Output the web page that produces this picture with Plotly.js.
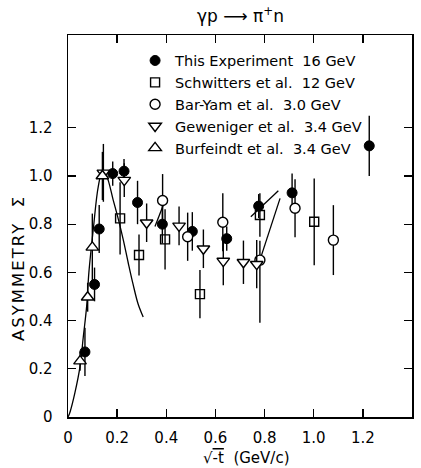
<!DOCTYPE html>
<html><head><meta charset="utf-8">
<script src="https://cdn.plot.ly/plotly-3.0.1.min.js"></script>
<style>html,body{margin:0;padding:0;background:#fff}#chart{width:421px;height:468px}</style>
</head><body><div id="chart"></div>
<script>
// This Experiment 16 GeV
const exp16_x = [0.069, 0.108, 0.127, 0.182, 0.228, 0.283, 0.384, 0.506, 0.646, 0.776, 0.912, 1.226];
const exp16_y = [0.27, 0.55, 0.78, 1.01, 1.02, 0.89, 0.80, 0.77, 0.74, 0.875, 0.93, 1.125];
const exp16_err = [0.1, 0.07, 0.1, 0.05, 0.05, 0.09, 0.08, 0.08, 0.05, 0.05, 0.08, 0.125];
// Schwitters et al. 12 GeV
const schw_x = [0.212, 0.289, 0.395, 0.537, 0.781, 1.002];
const schw_y = [0.824, 0.672, 0.737, 0.51, 0.838, 0.81];
const schw_err = [0.15, 0.085, 0.125, 0.1, 0.09, 0.18];
// Bar-Yam et al. 3.0 GeV
const bar_x = [0.385, 0.487, 0.63, 0.781, 0.924, 1.08];
const bar_y = [0.898, 0.748, 0.808, 0.651, 0.866, 0.734];
const bar_errp = [0.11, 0.1, 0.12, 0.08, 0.12, 0.145];
const bar_errm = [0.11, 0.1, 0.12, 0.26, 0.12, 0.145];
// Geweniger et al. 3.4 GeV
const gew_x = [0.144, 0.229, 0.32, 0.452, 0.551, 0.632, 0.714, 0.768];
const gew_y = [1.013, 0.983, 0.806, 0.793, 0.698, 0.647, 0.642, 0.634];
const gew_err = [0.12, 0.07, 0.08, 0.08, 0.08, 0.1, 0.09, 0.1];
// Burfeindt et al. 3.4 GeV
const burf_x = [0.049, 0.08, 0.099, 0.14];
const burf_y = [0.232, 0.497, 0.704, 1.0];
const burf_err = [0.04, 0.06, 0.14, 0.1];
// theory curve
const model_x = [0, 0.008, 0.028, 0.049, 0.062, 0.076, 0.085, 0.103, 0.123, 0.14, 0.157, 0.184, 0.205, 0.225, 0.245, 0.265, 0.285, 0.306];
const model_y = [0, 0.02, 0.1, 0.21, 0.33, 0.46, 0.6, 0.78, 0.955, 1.02, 1.0, 0.9, 0.82, 0.735, 0.64, 0.55, 0.47, 0.415];
// short model segments
const segA_x = [0.354, 0.388], segA_y = [0.79, 0.88];
const segB_x = [0.744, 0.856], segB_y = [0.831, 0.939];
const segC_x = [0.781, 0.863], segC_y = [0.651, 0.907];

const xticks = [0, 0.2, 0.4, 0.6, 0.8, 1.0, 1.2, 1.4];
const xticklabels = ['0', '0.2', '0.4', '0.6', '0.8', '1.0', '1.2', '1.4'];
const yticks = [0, 0.2, 0.4, 0.6, 0.8, 1.0, 1.2];
const yticklabels = ['0', '0.2', '0.4', '0.6', '0.8', '1.0', '1.2'];

const names = ['This Experiment  16 GeV', 'Schwitters et al.  12 GeV', 'Bar-Yam et al.  3.0 GeV', 'Geweniger et al.  3.4 GeV', 'Burfeindt et al.  3.4 GeV'];

const eb = (arr) => ({type: 'data', array: arr, visible: true, color: '#000', thickness: 1.4, width: 0});
const ln = (x, y) => ({x: x, y: y, mode: 'lines', type: 'scatter', line: {color: '#000', width: 1.3}, showlegend: false, hoverinfo: 'skip'});

const traces = [
  Object.assign(ln(model_x, model_y), {line: {color: '#000', width: 1.3, shape: 'spline'}}),
  ln(segA_x, segA_y), ln(segB_x, segB_y), ln(segC_x, segC_y),
  {x: exp16_x, y: exp16_y, name: names[0], mode: 'markers', type: 'scatter', error_y: eb(exp16_err),
   marker: {symbol: 'circle', size: 10, color: '#000', line: {color: '#000', width: 1}}},
  {x: schw_x, y: schw_y, name: names[1], mode: 'markers', type: 'scatter', error_y: eb(schw_err),
   marker: {symbol: 'square-open', size: 9, color: '#000', line: {color: '#000', width: 1.4}}},
  {x: bar_x, y: bar_y, name: names[2], mode: 'markers', type: 'scatter',
   error_y: {type: 'data', array: bar_errp, arrayminus: bar_errm, symmetric: false, visible: true, color: '#000', thickness: 1.4, width: 0},
   marker: {symbol: 'circle', size: 10, color: '#fff', line: {color: '#000', width: 1.4}}},
  {x: gew_x, y: gew_y, name: names[3], mode: 'markers', type: 'scatter', error_y: eb(gew_err),
   marker: {symbol: 'triangle-down', size: 11, color: '#fff', line: {color: '#000', width: 1.4}}},
  {x: burf_x, y: burf_y, name: names[4], mode: 'markers', type: 'scatter', error_y: eb(burf_err),
   marker: {symbol: 'triangle-up', size: 11, color: '#fff', line: {color: '#000', width: 1.4}}}
];

const font = {family: 'DejaVu Sans, sans-serif', size: 13, color: '#000'};
const axisCommon = {showline: true, linecolor: '#000', linewidth: 1.5, mirror: 'ticks', ticks: 'inside', ticklen: 8,
  tickwidth: 1.3, tickcolor: '#000', showgrid: false, zeroline: false, tickmode: 'array', tickfont: {family: 'DejaVu Sans, sans-serif', size: 15, color: '#000'}};

const layout = {
  width: 421, height: 468,
  margin: {l: 68, r: 9, t: 35, b: 51},
  paper_bgcolor: '#fff', plot_bgcolor: '#fff',
  font: font,
  showlegend: true,
  legend: {x: 0.195, y: 0.975, xanchor: 'left', yanchor: 'top', bgcolor: 'rgba(0,0,0,0)', borderwidth: 0,
    font: {family: 'DejaVu Sans, sans-serif', size: 14.5, color: '#000'}, tracegroupgap: 0, itemwidth: 30},
  xaxis: Object.assign({}, axisCommon, {range: [0, 1.4], tickvals: xticks, ticktext: xticklabels, ticklabelstandoff: 6}),
  yaxis: Object.assign({}, axisCommon, {range: [0, 1.585], tickvals: yticks, ticktext: yticklabels, ticklabelstandoff: 11}),
  annotations: [
    {text: 'γp ⟶ π<sup>+</sup>n', xref: 'paper', yref: 'paper', x: 0.5, y: 1, yshift: 7, xanchor: 'center', yanchor: 'bottom', showarrow: false,
     font: {family: 'DejaVu Sans, sans-serif', size: 17, color: '#000'}},
    {text: '<span style="letter-spacing:2px">ASYMMETRY  Σ</span>', xref: 'paper', yref: 'paper', x: 0, xshift: -50, y: 0.39, textangle: -90, xanchor: 'center', yanchor: 'middle', showarrow: false,
     font: {family: 'DejaVu Sans, sans-serif', size: 16.5, color: '#000'}},
    {text: '√<span style="text-decoration:overline">-t</span>  (GeV/c)', xref: 'paper', yref: 'paper', x: 0.52, y: 0, yshift: -30, xanchor: 'center', yanchor: 'top', showarrow: false,
     font: {family: 'DejaVu Sans, sans-serif', size: 15, color: '#000'}}
  ]
};

Plotly.newPlot('chart', traces, layout, {staticPlot: true, displayModeBar: false});
</script></body></html>
